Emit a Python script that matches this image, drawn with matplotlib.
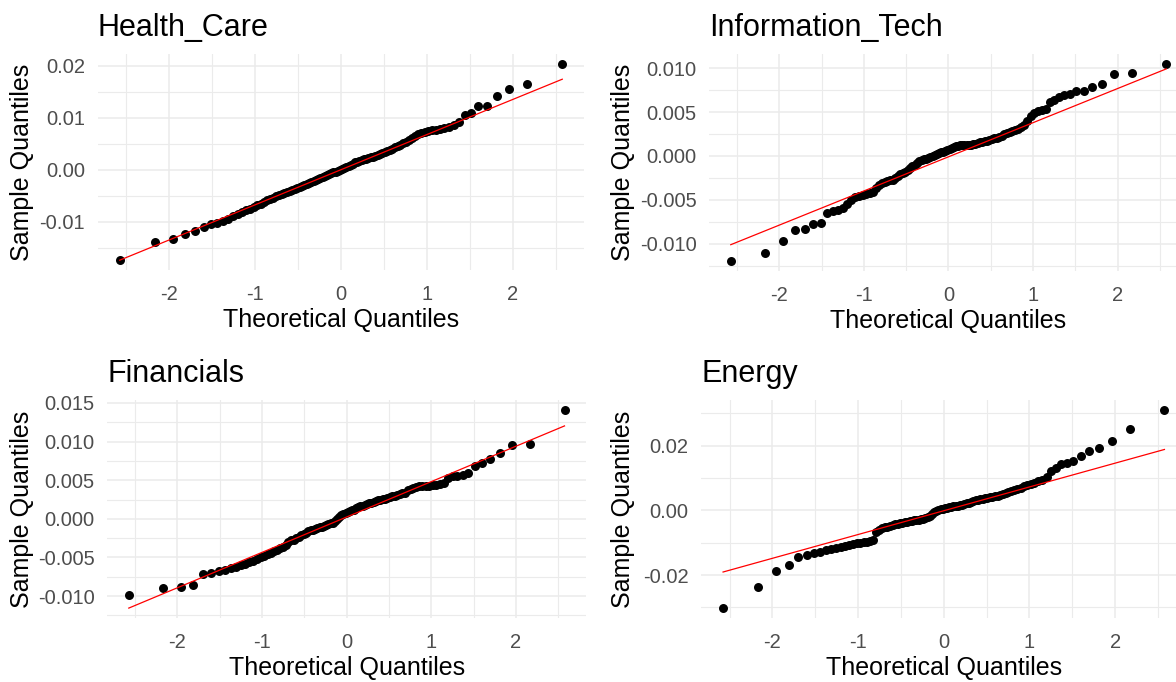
import numpy as np
import matplotlib
matplotlib.use("Agg")
import matplotlib.pyplot as plt
from matplotlib.ticker import MultipleLocator, FormatStrFormatter
from statistics import NormalDist

plt.rcParams['font.family'] = ['Liberation Sans', 'DejaVu Sans']
plt.rcParams['axes.unicode_minus'] = False

# sorted daily returns per sector (sample quantiles)
health_care = [
    -0.0173, -0.0139, -0.0133, -0.0123, -0.0117, -0.0110, -0.0104, -0.0102, -0.0098, -0.0095,
    -0.0090, -0.0086, -0.0082, -0.0078, -0.0075, -0.0071, -0.0068, -0.0065, -0.0062, -0.0058,
    -0.0056, -0.0054, -0.0051, -0.0049, -0.0047, -0.0045, -0.0043, -0.0041, -0.0039, -0.0037,
    -0.0035, -0.0033, -0.0031, -0.0029, -0.0027, -0.0025, -0.0023, -0.0021, -0.0020, -0.0018,
    -0.0016, -0.0014, -0.0012, -0.0011, -0.0009, -0.0007, -0.0005, -0.0004, -0.0002, 0.0000,
    0.0002, 0.0004, 0.0006, 0.0008, 0.0010, 0.0012, 0.0014, 0.0015, 0.0017, 0.0018,
    0.0020, 0.0021, 0.0022, 0.0024, 0.0025, 0.0027, 0.0028, 0.0030, 0.0032, 0.0034,
    0.0036, 0.0038, 0.0040, 0.0043, 0.0045, 0.0048, 0.0051, 0.0054, 0.0058, 0.0062,
    0.0065, 0.0068, 0.0071, 0.0073, 0.0075, 0.0076, 0.0077, 0.0078, 0.0080, 0.0082,
    0.0086, 0.0092, 0.0106, 0.0110, 0.0122, 0.0123, 0.0142, 0.0155, 0.0165, 0.0204]

info_tech = [
    -0.0120, -0.0111, -0.0097, -0.0084, -0.0083, -0.0078, -0.0077, -0.0065, -0.0063, -0.0062,
    -0.0059, -0.0055, -0.0050, -0.0047, -0.0046, -0.0044, -0.0043, -0.0042, -0.0041, -0.0037,
    -0.0033, -0.0031, -0.0030, -0.0029, -0.0028, -0.0027, -0.0025, -0.0023, -0.0021, -0.0020,
    -0.0018, -0.0016, -0.0014, -0.0012, -0.0010, -0.0008, -0.0006, -0.0005, -0.0004, -0.0003,
    -0.0002, -0.0001, 0.0000, 0.0001, 0.0002, 0.0003, 0.0004, 0.0005, 0.0006, 0.0007,
    0.0008, 0.0009, 0.0010, 0.0011, 0.0011, 0.0012, 0.0012, 0.0012, 0.0013, 0.0013,
    0.0013, 0.0014, 0.0014, 0.0015, 0.0016, 0.0016, 0.0017, 0.0017, 0.0018, 0.0019,
    0.0020, 0.0021, 0.0022, 0.0023, 0.0025, 0.0026, 0.0027, 0.0028, 0.0029, 0.0031,
    0.0033, 0.0035, 0.0040, 0.0045, 0.0049, 0.0051, 0.0052, 0.0053, 0.0061, 0.0064,
    0.0067, 0.0070, 0.0071, 0.0074, 0.0074, 0.0079, 0.0082, 0.0093, 0.0095, 0.0105]

financials = [
    -0.0099, -0.0089, -0.0088, -0.0085, -0.0072, -0.0070, -0.0068, -0.0066, -0.0064, -0.0062,
    -0.0060, -0.0058, -0.0056, -0.0054, -0.0052, -0.0050, -0.0048, -0.0046, -0.0044, -0.0042,
    -0.0040, -0.0038, -0.0036, -0.0034, -0.0030, -0.0028, -0.0027, -0.0025, -0.0023, -0.0021,
    -0.0019, -0.0018, -0.0016, -0.0015, -0.0014, -0.0013, -0.0012, -0.0011, -0.0010, -0.0009,
    -0.0008, -0.0007, -0.0006, -0.0005, -0.0003, 0.0000, 0.0003, 0.0005, 0.0006, 0.0007,
    0.0009, 0.0010, 0.0011, 0.0012, 0.0014, 0.0015, 0.0016, 0.0017, 0.0018, 0.0019,
    0.0020, 0.0021, 0.0022, 0.0023, 0.0024, 0.0025, 0.0026, 0.0026, 0.0027, 0.0028,
    0.0029, 0.0030, 0.0031, 0.0032, 0.0033, 0.0034, 0.0037, 0.0039, 0.0040, 0.0041,
    0.0042, 0.0042, 0.0043, 0.0043, 0.0044, 0.0044, 0.0045, 0.0046, 0.0053, 0.0055,
    0.0056, 0.0057, 0.0059, 0.0069, 0.0072, 0.0078, 0.0085, 0.0095, 0.0097, 0.0141]

energy = [
    -0.0302, -0.0238, -0.0186, -0.0170, -0.0145, -0.0139, -0.0133, -0.0128, -0.0123, -0.0119,
    -0.0116, -0.0112, -0.0109, -0.0106, -0.0104, -0.0102, -0.0100, -0.0098, -0.0097, -0.0095,
    -0.0090, -0.0068, -0.0060, -0.0055, -0.0052, -0.0050, -0.0047, -0.0045, -0.0043, -0.0041,
    -0.0039, -0.0038, -0.0037, -0.0035, -0.0034, -0.0033, -0.0031, -0.0030, -0.0028, -0.0026,
    -0.0025, -0.0023, -0.0020, -0.0016, -0.0011, -0.0006, -0.0002, 0.0001, 0.0003, 0.0005,
    0.0007, 0.0008, 0.0010, 0.0011, 0.0013, 0.0014, 0.0015, 0.0017, 0.0018, 0.0020,
    0.0022, 0.0024, 0.0027, 0.0029, 0.0031, 0.0033, 0.0034, 0.0036, 0.0038, 0.0040,
    0.0041, 0.0043, 0.0044, 0.0046, 0.0048, 0.0051, 0.0055, 0.0058, 0.0061, 0.0064,
    0.0067, 0.0071, 0.0075, 0.0079, 0.0082, 0.0086, 0.0090, 0.0094, 0.0105, 0.0121,
    0.0131, 0.0145, 0.0147, 0.0154, 0.0169, 0.0184, 0.0193, 0.0215, 0.0252, 0.0311]

sectors = ["Health_Care", "Information_Tech", "Financials", "Energy"]
returns = [health_care, info_tech, financials, energy]
y_steps = [0.01, 0.005, 0.005, 0.02]
y_formats = ['%.2f', '%.3f', '%.3f', '%.2f']
x_ticks = [-2, -1, 0, 1, 2]

# panel boxes in pixels: left, top, right, bottom; y-label x position
W, H = 1176, 682
boxes = [(97.6, 54, 584.4, 270), (709, 54, 1188, 271),
         (107, 400, 586.3, 618), (701, 400, 1186.5, 618)]
ylab_x = [22, 623, 22.5, 623]

grid_col = '#ebebeb'
text_col = '#4d4d4d'

fig = plt.figure(figsize=(W / 100, H / 100), dpi=100)

nd = NormalDist()
for k, (name, y) in enumerate(zip(sectors, returns)):
    y = np.sort(np.array(y))
    n = len(y)
    theo = np.array([nd.inv_cdf((i - 0.5) / n) for i in range(1, n + 1)])

    # reference line through the quartiles (as qqline does)
    q1, q3 = np.quantile(y, [0.25, 0.75])
    t1, t3 = nd.inv_cdf(0.25), nd.inv_cdf(0.75)
    slope = (q3 - q1) / (t3 - t1)
    icpt = q1 - slope * t1
    lx = np.array([theo[0], theo[-1]])
    ly = icpt + slope * lx

    l, t, r, b = boxes[k]
    ax = fig.add_axes([l / W, 1 - b / H, (r - l) / W, (b - t) / H])
    ax.scatter(theo, y, s=42, color='black', linewidths=0, zorder=3)
    ax.plot(lx, ly, color='red', lw=0.9, zorder=4)

    xr = theo[-1] - theo[0]
    ax.set_xlim(theo[0] - 0.05 * xr, theo[-1] + 0.05 * xr)
    ylo = min(y.min(), ly.min())
    yhi = max(y.max(), ly.max())
    yr = yhi - ylo
    ax.set_ylim(ylo - 0.05 * yr, yhi + 0.05 * yr)

    ax.set_xticks(x_ticks)
    ax.xaxis.set_minor_locator(MultipleLocator(0.5))
    ax.yaxis.set_major_locator(MultipleLocator(y_steps[k]))
    ax.yaxis.set_minor_locator(MultipleLocator(y_steps[k] / 2))
    ax.yaxis.set_major_formatter(FormatStrFormatter(y_formats[k]))
    ax.xaxis.set_major_formatter(FormatStrFormatter('%d'))

    ax.grid(which='major', color=grid_col, lw=1.1)
    ax.grid(which='minor', color=grid_col, lw=0.8)
    ax.set_axisbelow(True)
    for s in ax.spines.values():
        s.set_visible(False)
    ax.tick_params(which='both', length=0)
    ax.tick_params(axis='x', labelsize=14.5, labelcolor=text_col, pad=11)
    ax.tick_params(axis='y', labelsize=14.5, labelcolor=text_col, pad=9)

    ax.set_title(name, loc='left', fontsize=22, pad=13)
    ax.set_xlabel("Theoretical Quantiles", fontsize=18, va='center')
    ax.xaxis.set_label_coords(0.5, -50 / (b - t))
    ax.set_ylabel("Sample Quantiles", fontsize=18, va='center')
    ax.yaxis.set_label_coords((ylab_x[k] - l) / (r - l), 0.5)

fig.savefig("out.png", dpi=100)
